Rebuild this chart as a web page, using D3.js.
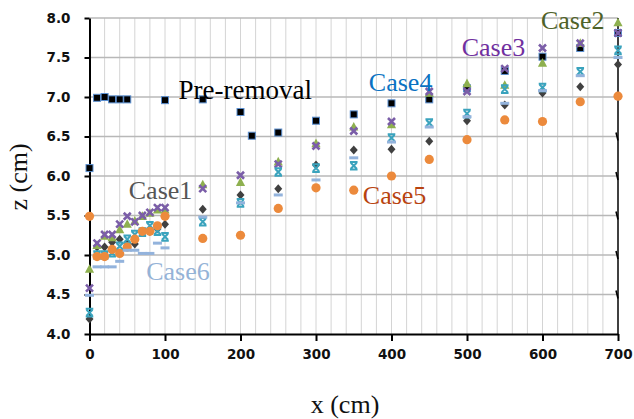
<!DOCTYPE html>
<html><head><meta charset="utf-8">
<script src="https://cdn.jsdelivr.net/npm/d3@7/dist/d3.min.js"></script>
<style>body{margin:0;background:#fff}svg{display:block}</style>
</head><body>
<svg id="c" width="634" height="419"></svg>
<script>
const preX = [0,10,20,30,40,50,100,150,200,215,250,300,350,400,450,500,550,600,650,700];
const preZ = [6.10,6.99,7.00,6.97,6.97,6.97,6.96,6.97,6.81,6.51,6.55,6.70,6.78,6.92,6.97,7.11,7.33,7.51,7.62,7.81];
const caseX = [0,10,20,30,40,50,60,70,80,90,100,150,200,250,300,350,400,450,500,550,600,650,700];
const case1 = [4.19,5.10,5.10,5.16,5.20,5.15,5.14,5.30,5.30,5.33,5.39,5.58,5.76,5.84,6.14,6.33,6.34,6.44,6.70,6.90,7.05,7.13,7.41];
const case2 = [4.82,5.12,5.24,5.22,5.32,5.39,5.43,5.49,5.53,5.57,5.57,5.89,5.92,6.18,6.41,6.62,6.65,7.05,7.17,7.15,7.43,7.68,7.94];
const case3 = [4.58,5.15,5.26,5.26,5.39,5.49,5.42,5.50,5.54,5.60,5.60,5.84,6.01,6.15,6.38,6.57,6.69,7.07,7.07,7.36,7.62,7.68,7.81];
const case4 = [4.27,5.00,5.00,5.03,5.11,5.20,5.26,5.29,5.37,5.30,5.23,5.42,5.66,6.05,6.10,6.13,6.48,6.67,6.79,7.10,7.12,7.32,7.59];
const case5 = [5.49,4.98,4.98,5.07,5.02,5.10,5.20,5.30,5.30,5.37,5.49,5.21,5.25,5.59,5.85,5.82,6.00,6.21,6.46,6.71,6.69,6.94,7.01];
const case6 = [4.49,4.85,4.85,4.85,4.92,5.06,5.06,5.02,5.02,5.15,5.09,5.48,5.66,5.76,5.95,6.23,6.43,6.62,6.75,6.92,7.08,7.27,7.50];
const xTicks = [0,100,200,300,400,500,600,700];
const yTicks = [4.0,4.5,5.0,5.5,6.0,6.5,7.0,7.5,8.0];
const labels = ["Pre-removal","Case1","Case2","Case3","Case4","Case5","Case6"];
const labelAt = [[118,6.97],[52,5.71],[598,7.86],[493,7.52],[370,7.08],[362,5.65],[75,4.68]];

const svg = d3.select("#c");
const x = d3.scaleLinear().domain([0,700]).range([89.5,618]);
const y = d3.scaleLinear().domain([4,8]).range([334,18]);

// gridlines
const gx = d3.range(20,700,20);
svg.append("g").selectAll("line").data(gx).join("line")
  .attr("x1",d=>x(d)).attr("x2",d=>x(d)).attr("y1",y(8)).attr("y2",y(4))
  .attr("stroke","#d4d4d4").attr("stroke-width",1);
svg.append("g").selectAll("line").data(yTicks.filter(d=>d>4)).join("line")
  .attr("x1",x(0)).attr("x2",x(700)).attr("y1",d=>y(d)).attr("y2",d=>y(d))
  .attr("stroke","#b8b8b8").attr("stroke-width",1.5);
// right border
svg.append("line").attr("x1",x(700)).attr("x2",x(700)).attr("y1",y(8)).attr("y2",y(4))
  .attr("stroke","#000").attr("stroke-width",1.5);
svg.append("g").selectAll("line").data(yTicks.filter(d=>d>4&&d<7)).join("line")
  .attr("x1",x(700)-2).attr("x2",x(700)).attr("y1",d=>y(d)-4).attr("y2",d=>y(d)+4)
  .attr("stroke","#000").attr("stroke-width",1.5);

const tickFont = "DejaVu Sans, sans-serif";
// axes
const ax = svg.append("g").attr("transform",`translate(0,${y(4)})`)
  .call(d3.axisBottom(x).tickValues(xTicks).tickSize(7).tickSizeOuter(0).tickPadding(8).tickFormat(d3.format("d")));
const ay = svg.append("g").attr("transform",`translate(${x(0)},0)`)
  .call(d3.axisLeft(y).tickValues(yTicks).tickSize(5).tickSizeOuter(0).tickPadding(14).tickFormat(d3.format(".1f")));
[ax,ay].forEach(g=>{
  g.select(".domain").attr("stroke","#000").attr("stroke-width",2);
  g.selectAll(".tick line").attr("stroke","#000").attr("stroke-width",2);
  g.selectAll(".tick text").attr("fill","#111").style("font-family",tickFont)
   .style("font-weight","bold").style("font-size","13.5px");
});

// markers
const layer = svg.append("g");
function pts(xs, zs){ return xs.map((d,i)=>({x:d,z:zs[i]})); }

layer.append("g").selectAll("rect").data(pts(preX,preZ)).join("rect")
  .attr("x",d=>x(d.x)-3.5).attr("y",d=>y(d.z)-3.5).attr("width",7).attr("height",7)
  .attr("fill","#000").attr("stroke","#5b8fd0").attr("stroke-width",1);

layer.append("g").selectAll("path").data(pts(caseX,case1)).join("path")
  .attr("d","M0,-4.5L4,0L0,4.5L-4,0Z").attr("transform",d=>`translate(${x(d.x)},${y(d.z)})`)
  .attr("fill","#404040");

layer.append("g").selectAll("path").data(pts(caseX,case2)).join("path")
  .attr("d","M0,-5L4.6,3.6L-4.6,3.6Z").attr("transform",d=>`translate(${x(d.x)},${y(d.z)})`)
  .attr("fill","#8eb04f");

layer.append("g").selectAll("path").data(pts(caseX,case3)).join("path")
  .attr("d","M-3.5,-3.5L3.5,3.5M3.5,-3.5L-3.5,3.5").attr("transform",d=>`translate(${x(d.x)},${y(d.z)})`)
  .attr("stroke","#7b5ea8").attr("stroke-width",2.6).attr("fill","none");

layer.append("g").selectAll("path").data(pts(caseX,case4)).join("path")
  .attr("d","M-3.8,-3.8H3.8M-3.8,3.8H3.8M-3,-3L3,3M3,-3L-3,3").attr("transform",d=>`translate(${x(d.x)},${y(d.z)})`)
  .attr("stroke","#3aa3bd").attr("stroke-width",2).attr("fill","none");

layer.append("g").selectAll("circle").data(pts(caseX,case5)).join("circle")
  .attr("cx",d=>x(d.x)).attr("cy",d=>y(d.z)).attr("r",4.6)
  .attr("fill","#ec8a3c");

layer.append("g").selectAll("rect").data(pts(caseX,case6)).join("rect")
  .attr("x",d=>x(d.x)-4.5).attr("y",d=>y(d.z)-1.5).attr("width",9).attr("height",3)
  .attr("fill","#93b3dc");

// annotations
const labelColors = ["#000","#555555","#4f6228","#7030a0","#0a72c2","#b8430f","#95b3d7"];
svg.append("g").selectAll("text").data(labels).join("text")
  .attr("x",(d,i)=>x(labelAt[i][0])).attr("y",(d,i)=>y(labelAt[i][1]))
  .attr("fill",(d,i)=>labelColors[i])
  .style("font-family","Liberation Serif, serif").style("font-size",(d,i)=>i===0?"27px":"26px")
  .text(d=>d);

// axis titles
svg.append("text").attr("x",345).attr("y",413).attr("text-anchor","middle")
  .style("font-family","Liberation Serif, serif").style("font-size","26px").attr("fill","#111").text("x (cm)");
svg.append("text").attr("transform","translate(27,177) rotate(-90)").attr("text-anchor","middle")
  .style("font-family","Liberation Serif, serif").style("font-size","26px").attr("fill","#111").text("z (cm)");
</script>
</body></html>
